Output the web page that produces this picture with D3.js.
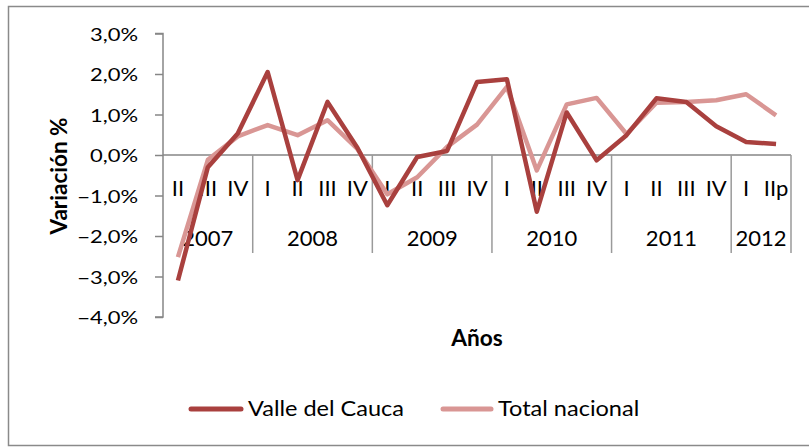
<!DOCTYPE html>
<html><head><meta charset="utf-8">
<script src="https://cdn.jsdelivr.net/npm/d3@7"></script>
<style>body{margin:0;background:#fff}svg{display:block}text{font-family:Lato,"Open Sans",sans-serif;fill:#000}</style>
</head><body><svg id="c" width="809" height="448"></svg>
<script>
const years = ["2007","2008","2009","2010","2011","2012"];
const quarters = [["II","III","IV"],["I","II","III","IV"],["I","II","III","IV"],["I","II","III","IV"],["I","II","III","IV"],["I","IIp"]];
const valle = [-3.10,-0.30,0.53,2.05,-0.62,1.31,0.18,-1.24,-0.05,0.10,1.80,1.87,-1.40,1.05,-0.13,0.49,1.40,1.31,0.71,0.32,0.27];
const nacional = [-2.52,-0.12,0.46,0.74,0.49,0.86,0.15,-0.97,-0.55,0.20,0.75,1.68,-0.38,1.25,1.41,0.52,1.29,1.31,1.35,1.50,0.98];
const yTicks = [3,2,1,0,-1,-2,-3,-4];
const seriesNames = ["Valle del Cauca","Total nacional"];
const colors = ["#A9403E","#D99694"];

const svg = d3.select("#c");
svg.append("rect").attr("x",8.5).attr("y",6.5).attr("width",810).attr("height",439).attr("fill","#fff").attr("stroke","#8a8a8a").attr("stroke-width",1.5);

function txt(g, x, y, s, size, sx, anchor, bold){
  return g.append("text").attr("transform",`translate(${x},${y}) scale(${sx},1)`)
    .attr("text-anchor",anchor).attr("font-size",size).attr("font-weight",bold?"bold":"normal").text(s);
}

const cats = [];
quarters.forEach((qs,i)=>qs.forEach(q=>cats.push({y:years[i],q:q,k:years[i]+"-"+q})));
const x0=163, x1=791, yTop=33.5, yBot=317;
const x = d3.scaleBand().domain(cats.map(d=>d.k)).range([x0,x1]);
const y = d3.scaleLinear().domain([-4,3]).range([yBot,yTop]);
const fmt = v => d3.format(".1f")(v).replace(".",",")+"%";

// y axis
const ya = svg.append("g").attr("transform",`translate(${x0},0)`)
  .call(d3.axisLeft(y).tickValues(yTicks).tickFormat("").tickSize(8));
ya.select(".domain").attr("stroke","#868686").attr("stroke-width",1.5).attr("d",`M-8,${y(3)}H0V${y(-4)}H-8`);
ya.selectAll(".tick line").attr("stroke","#868686").attr("stroke-width",1.5);
const yl = svg.append("g");
yTicks.forEach(t=>txt(yl,138,y(t)+7,fmt(t),18,1.22,"end"));

// zero line
const y0 = y(0);
svg.append("line").attr("x1",x0).attr("x2",x1).attr("y1",y0).attr("y2",y0).attr("stroke","#868686").attr("stroke-width",1.5);

// group separators
let idx=0; const bounds=[0];
quarters.forEach(qs=>{idx+=qs.length;bounds.push(idx);});
bounds.slice(1).forEach(b=>{
  const xx = b<cats.length ? x(cats[b].k) : x1;
  svg.append("line").attr("x1",xx).attr("x2",xx).attr("y1",y0).attr("y2",y0+98).attr("stroke","#9a9a9a").attr("stroke-width",1.5);
});

// quarter labels
const ql = svg.append("g");
cats.forEach(d=>txt(ql, x(d.k)+x.bandwidth()/2, y0+41, d.q, 22, 1, "middle"));
// year labels
years.forEach((yr,i)=>{
  const a = x(cats[bounds[i]].k), b = bounds[i+1]<cats.length? x(cats[bounds[i+1]].k): x1;
  txt(svg,(a+b)/2, y0+91, yr, 22, 1, "middle");
});

// lines
const line = d3.line().x((d,i)=>x(cats[i].k)+x.bandwidth()/2).y(d=>y(d));
[nacional,valle].forEach((s,j)=>{
  svg.append("path").datum(s).attr("d",line).attr("fill","none")
   .attr("stroke",colors[1-j]).attr("stroke-width",4.5).attr("stroke-linejoin","round");
});

// axis titles
txt(svg,477,346,"Años",22,1.03,"middle",true);
svg.append("text").attr("transform","translate(67,176) rotate(-90)").attr("text-anchor","middle").attr("font-size",22.5).attr("font-weight","bold").text("Variación %");

// legend
const leg = [{x:189,w:54,tx:248},{x:441,w:52,tx:498}];
seriesNames.forEach((n,i)=>{
  svg.append("line").attr("x1",leg[i].x+2).attr("x2",leg[i].x+leg[i].w-2).attr("y1",409).attr("y2",409)
    .attr("stroke",colors[i]).attr("stroke-width",5).attr("stroke-linecap","round");
  txt(svg,leg[i].tx,416,n,22,1.07,"start");
});
</script></body></html>
